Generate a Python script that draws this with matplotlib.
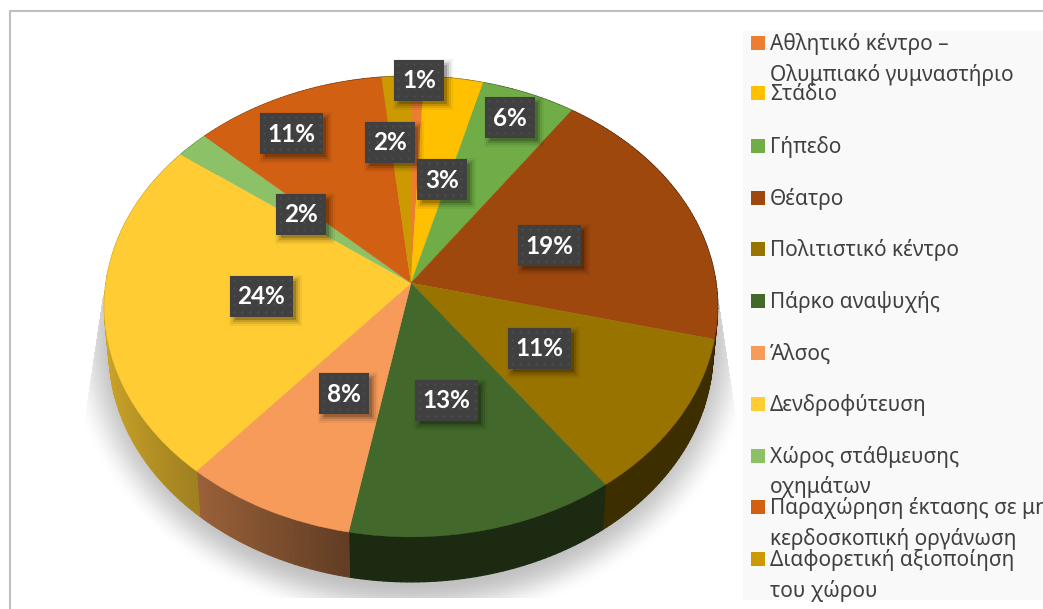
#!/usr/bin/env python3
"""Perspective 3D-style pie chart with a Greek legend."""
import matplotlib
matplotlib.use("Agg")
import matplotlib.pyplot as plt
from matplotlib.collections import PolyCollection
from matplotlib.patches import Rectangle
from matplotlib.transforms import Transform
import numpy as np

# ── data ───────────────────────────────────────────────────────────────────────
categories = [
    "Αθλητικό κέντρο –\nΟλυμπιακό γυμναστήριο",
    "Στάδιο",
    "Γήπεδο",
    "Θέατρο",
    "Πολιτιστικό κέντρο",
    "Πάρκο αναψυχής",
    "Άλσος",
    "Δενδροφύτευση",
    "Χώρος στάθμευσης\nοχημάτων",
    "Παραχώρηση έκτασης σε μη\nκερδοσκοπική οργάνωση",
    "Διαφορετική αξιοποίηση\nτου χώρου",
]
values = [0.75, 3.45, 5.5, 19.2, 11.2, 12.9, 8.3, 24.0, 1.9, 11.2, 1.7]
pct_labels = ["1%", "3%", "6%", "19%", "11%", "13%", "8%", "24%", "2%", "11%", "2%"]
colors = ["#ED7D31", "#FFC000", "#70AD47", "#9E480E", "#997300", "#43682B",
          "#F79B5B", "#FFCD33", "#8CC168", "#D26012", "#CC9A00"]

# ── layout (pixels) ────────────────────────────────────────────────────────────
W, H = 1043, 609
CX, CY = 411, 283          # pie apex
A, B, K = 305, 228, 0.102  # perspective of the top face
DEPTH, RIM_SCALE = 45, 0.985
LABEL_XY = [(419, 80), (442, 179), (510, 117), (549, 245), (539, 348), (446, 400),
            (344, 393), (261, 296), (301, 214), (291, 133), (390, 142)]
LEGEND_Y = [43, 93, 146, 198, 249, 301, 353, 404, 456, 507, 559]
LINE_STEP = 30.5
FONT = "Noto Sans"


class Persp(Transform):
    """Unit circle coordinates -> tilted pie top face in pixel coordinates."""
    input_dims = output_dims = 2
    is_separable = False

    def transform_non_affine(self, values):
        xy = np.asarray(values, dtype=float)
        w = 1 + K * xy[:, 1]
        return np.column_stack([CX + A * xy[:, 0] / w, CY - B * xy[:, 1] / w])


persp = Persp()

fig = plt.figure(figsize=(W / 100, H / 100), dpi=100, facecolor="white")
ax = fig.add_axes([0, 0, 1, 1])

# ── soft floor shadow ──────────────────────────────────────────────────────────
px, py = np.meshgrid(np.arange(W) + 0.5, np.arange(H) + 0.5)
dist = np.hypot((px - CX) / 345, (py - 338) / 288)
soft = np.clip((1 - dist) / 0.15, 0, 1)
soft = soft * soft * (3 - 2 * soft)
t = (py - 295) / 135
left_lim = 103 - 20 * t
right_lim = 718 + 20 * t
soft[(py < 295) | (py > 598) | (px < left_lim) | (px > right_lim)] = 0
rgba = np.zeros((H, W, 4))
rgba[..., :3] = 0.76
rgba[..., 3] = soft
ax.imshow(rgba, extent=(0, W, H, 0), aspect="auto", zorder=1, interpolation="bilinear")

# ── side wall ──────────────────────────────────────────────────────────────────
edges = np.concatenate([[0], np.cumsum(values)]) / np.sum(values) * 2 * np.pi
for start, stop, color in zip(edges[:-1], edges[1:], colors):
    ang = np.linspace(start, stop, max(int((stop - start) * 60), 2))
    u, v = np.sin(ang), np.cos(ang)
    top = persp.transform_non_affine(np.column_stack([u, v]))
    low = np.column_stack([CX + RIM_SCALE * (top[:, 0] - CX), top[:, 1] + DEPTH])
    base = np.array(matplotlib.colors.to_rgb(color))
    quads, shades = [], []
    for i in range(len(ang) - 1):
        quads.append([top[i], top[i + 1], low[i + 1], low[i]])
        um = (u[i] + u[i + 1]) / 2
        shades.append(base * (0.40 + 0.5 * max(0.0, -um - 0.2)))
    ax.add_collection(PolyCollection(quads, facecolors=shades, edgecolors=shades,
                                     linewidths=0.9, zorder=2))

# ── top face ───────────────────────────────────────────────────────────────────
wedges, _ = ax.pie(values, colors=colors, startangle=90, counterclock=False,
                   wedgeprops=dict(linewidth=0))
for w, color in zip(wedges, colors):
    w.set_transform(persp + ax.transData)
    w.set_edgecolor(color)
    w.set_linewidth(0.3)
    w.set_zorder(3)

# ── data labels ────────────────────────────────────────────────────────────────
for (lx, ly), lab in zip(LABEL_XY, pct_labels):
    bw = 63 if len(lab) == 3 else 50
    bh = 41
    for grow, alpha in [(5, 0.05), (3, 0.08), (1, 0.12), (-1, 0.18)]:
        ax.add_patch(Rectangle((lx - bw / 2 + 4 - grow, ly - bh / 2 + 4 - grow),
                               bw + 2 * grow, bh + 2 * grow, fc="black", ec="none",
                               alpha=alpha, zorder=4))
    ax.add_patch(Rectangle((lx - bw / 2, ly - bh / 2), bw, bh, fc="#404040", ec="none", zorder=5))
    # dotted texture of the label box
    gx = np.arange(lx - bw / 2 + 4, lx + bw / 2, 8)
    gy = np.arange(ly - bh / 2 + 4, ly + bh / 2, 8)
    dx, dy = np.meshgrid(gx, gy)
    ax.scatter(dx.ravel(), dy.ravel(), s=3, c="#4D4D4D", linewidths=0, zorder=6)
    ax.text(lx, ly + 1, lab, color="white", fontsize=17.5, fontweight="bold", family="Lato",
            ha="center", va="center", zorder=7)

# ── legend panel ───────────────────────────────────────────────────────────────
ax.add_patch(Rectangle((743, 31), W - 743, 569, fc="#F9F9F9", ec="none", zorder=1.5))
for name, color, ly in zip(categories, colors, LEGEND_Y):
    ax.add_patch(Rectangle((751, ly - 7), 14, 14, fc=color, ec="none", zorder=3))
    for i, line in enumerate(name.split("\n")):
        ax.text(770, ly + 7 + i * LINE_STEP, line, color="#404040", fontsize=15, family=FONT,
                ha="left", va="baseline", zorder=3)

# ── frame lines ────────────────────────────────────────────────────────────────
ax.plot([9.5, 9.5, W], [H, 10.5, 10.5], color="#BFBFBF", linewidth=1.5,
        solid_joinstyle="miter", zorder=1)

ax.set_xlim(0, W)
ax.set_ylim(H, 0)
ax.set_aspect("auto")
ax.axis("off")

fig.savefig("out.png", dpi=100)
